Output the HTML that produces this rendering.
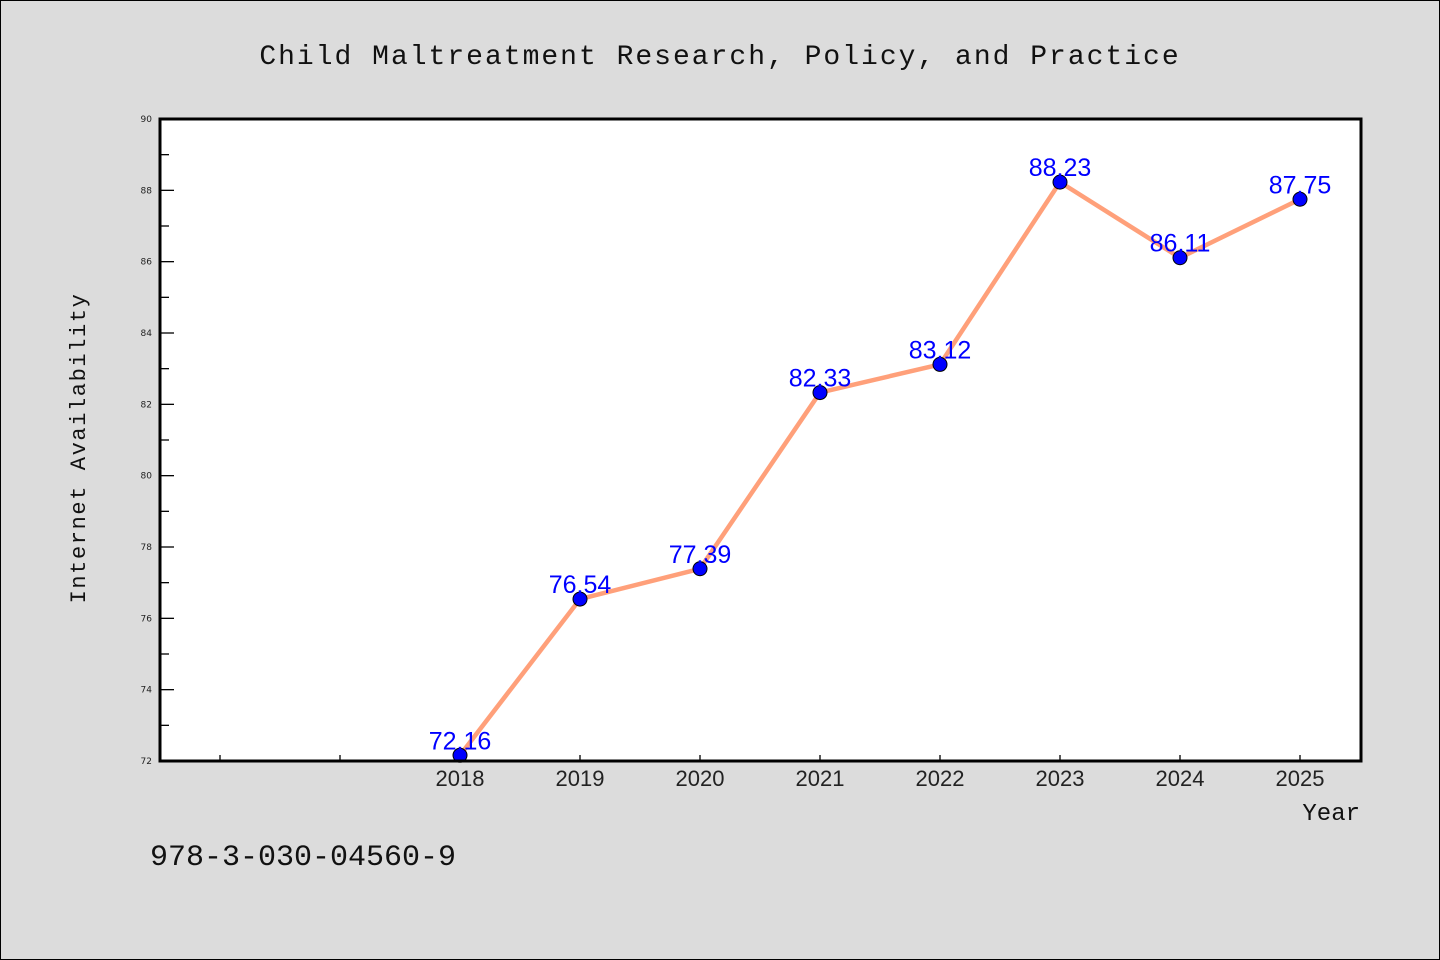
<!DOCTYPE html>
<html><head><meta charset="utf-8"><style>
html,body{margin:0;padding:0;}
body{width:1440px;height:960px;background:#dcdcdc;overflow:hidden;}
svg{display:block;}
</style></head><body>
<svg id="chart" width="1440" height="960">
<rect x="0.5" y="0.5" width="1439" height="959" fill="#dcdcdc" stroke="#000"/>
<text x="720" y="64" text-anchor="middle" font-family="Liberation Mono, monospace" font-size="28" letter-spacing="2" fill="#111">Child Maltreatment Research, Policy, and Practice</text>
<rect x="160" y="119" width="1201" height="642" fill="#fff"/>
<g id="yaxis"></g><g id="xaxis"></g><g id="series"></g>
<rect x="160" y="119" width="1201" height="642" fill="none" stroke="#000" stroke-width="3"/>
<text transform="translate(85,448) rotate(-90)" text-anchor="middle" font-family="Liberation Mono, monospace" font-size="22" letter-spacing="1.6" fill="#111">Internet Availability</text>
<text x="1360" y="820" text-anchor="end" font-family="Liberation Mono, monospace" font-size="24" fill="#111">Year</text>
<text x="150" y="865" font-family="Liberation Mono, monospace" font-size="30" fill="#111">978-3-030-04560-9</text>
</svg>
<script>
const categories = ["", "", "2018", "2019", "2020", "2021", "2022", "2023", "2024", "2025"];
const values = [null, null, 72.16, 76.54, 77.39, 82.33, 83.12, 88.23, 86.11, 87.75];
const valueLabels = ["", "", "72.16", "76.54", "77.39", "82.33", "83.12", "88.23", "86.11", "87.75"];
const yTicks = [72, 74, 76, 78, 80, 82, 84, 86, 88, 90];
const yMin = 72, yMax = 90;
const X0 = 160, X1 = 1360, Y0 = 761, Y1 = 119;
const NS = "http://www.w3.org/2000/svg";
function xPos(i){ return X0 + (X1 - X0) / categories.length * (i + 0.5); }
function yPos(v){ return Y0 - (v - yMin) / (yMax - yMin) * (Y0 - Y1); }
function mk(tag, attrs, parent){ const e=document.createElementNS(NS,tag); for(const k in attrs) e.setAttribute(k,attrs[k]); parent.appendChild(e); return e; }
const ya=document.getElementById('yaxis'), xa=document.getElementById('xaxis'), se=document.getElementById('series');
for(let v=yMin; v<=yMax; v++){
  const major = yTicks.includes(v);
  const t=mk('line',{x1:X0,x2:X0+(major?14:9),y1:yPos(v),y2:yPos(v),stroke:'#000','stroke-width':1.3},ya);
  
  
}
yTicks.forEach(v=>{
  const t=mk('text',{x:X0-8,y:yPos(v)+3,'text-anchor':'end','font-family':'DejaVu Sans, sans-serif','font-size':9,fill:'#222'},ya);
  t.textContent=v;
  
  
});
categories.forEach((c,i)=>{
  const t=mk('line',{x1:xPos(i),x2:xPos(i),y1:Y0,y2:Y0-6,stroke:'#000','stroke-width':1.3},xa);
  
  
  if(c){
    const l=mk('text',{x:xPos(i),y:Y0+25,'text-anchor':'middle','font-family':'Liberation Sans, sans-serif','font-size':22,fill:'#222'},xa);
    l.textContent=c;
    
    
  }
});
let pts=[];
values.forEach((v,i)=>{ if(v!==null) pts.push(xPos(i)+','+yPos(v)); });
const line=mk('polyline',{points:pts.join(' '),fill:'none',stroke:'#ffa07a','stroke-width':4.5,'stroke-linejoin':'round'},se);


values.forEach((v,i)=>{
  if(v===null) return;
  const c=mk('circle',{cx:xPos(i),cy:yPos(v),r:7,fill:'#0000ff',stroke:'#000','stroke-width':1},se);
  
  
});
values.forEach((v,i)=>{
  if(v===null) return;
  const t=mk('text',{x:xPos(i),y:yPos(v)-6,'text-anchor':'middle','font-family':'Liberation Sans, sans-serif','font-size':25,fill:'#0000ff'},se);
  t.textContent=valueLabels[i];
  
  
});
</script>
</body></html>
